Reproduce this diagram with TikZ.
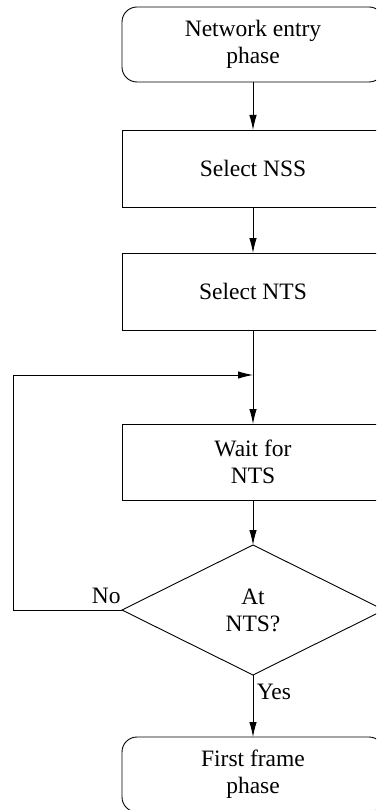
\documentclass[tikz,border=0pt]{standalone}
\usepackage{fontspec}
\setmainfont{Liberation Serif}
\usetikzlibrary{shapes.geometric,positioning,arrows.meta}

\begin{document}
\begin{tikzpicture}[x=1pt, y=-1pt, line width=0.9pt,
    font=\fontsize{23.5}{27}\selectfont,
    block/.style={draw, minimum width=262pt, minimum height=77pt, outer sep=0pt, align=center},
    term/.style={block, rounded corners=15pt, minimum height=75pt},
    decide/.style={draw, diamond, minimum width=262pt, minimum height=130pt, inner sep=0pt, outer sep=0pt, aspect=2, align=center},
    arr/.style={-{Latex[length=15pt,width=7.5pt]}}]
    \clip (0,0) rectangle (376,810);
    \useasboundingbox (0,0) rectangle (376,810);
    \node [term]   (entry) at (253,44.5)           {Network entry\\phase};
    \node [block]  (nss)   [below=48pt of entry]   {Select NSS};
    \node [block]  (nts)   [below=46pt of nss]     {Select NTS};
    \node [block, minimum height=76pt] (wait) [below=94pt of nts] {Wait for\\NTS};
    \node [decide] (atnts) [below=45pt of wait]    {At\\NTS?};
    \node [term]   (first) [below=62pt of atnts]   {First frame\\phase};
    \coordinate [below=45pt of nts.south] (join);
    \coordinate (lft) at (13,0);
    \draw[arr] (entry) -- (nss);
    \draw[arr] (nss) -- (nts);
    \draw (nts) -- (join);
    \draw[arr] (join) -- (wait);
    \draw[arr] (wait) -- (atnts);
    \draw[arr] (atnts) -- node[right, pos=0.27] {Yes} (first);
    \draw[arr] (atnts.west) node[anchor=south east, inner xsep=1pt, inner ysep=6pt] {No}
        -- (atnts.west -| lft) |- (join);
\end{tikzpicture}
\end{document}
